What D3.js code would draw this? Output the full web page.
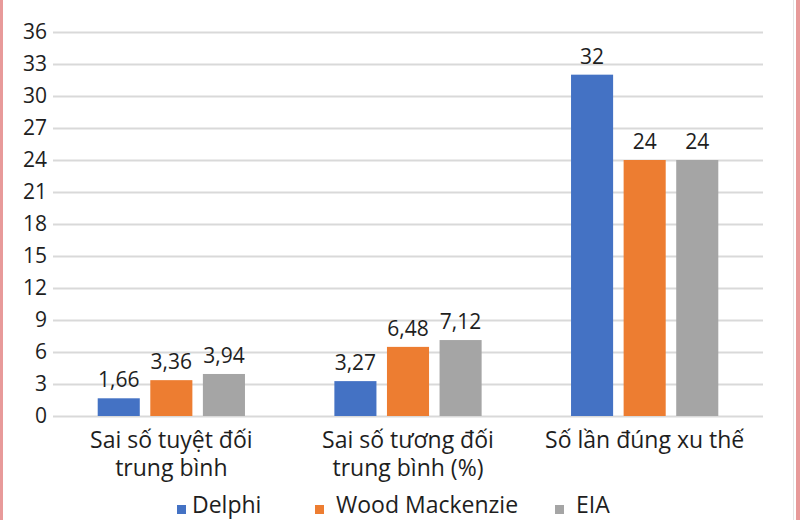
<!DOCTYPE html>
<html lang="vi">
<head>
<meta charset="utf-8">
<title>Chart</title>
<style>
  body { margin: 0; background: #fff; }
  text { font-family: "Open Sans", "Noto Sans", sans-serif; fill: #1e1e1e; }
</style>
</head>
<body>
<svg width="800" height="520"></svg>
<script src="https://d3js.org/d3.v7.min.js"></script>
<script>

var categories = [
    ["Sai số tuyệt đối", "trung bình"],
    ["Sai số tương đối", "trung bình (%)"],
    ["Số lần đúng xu thế"]
];
var series = ["Delphi", "Wood Mackenzie", "EIA"];
var delphi = [1.66, 3.27, 32];
var woodMackenzie = [3.36, 6.48, 24];
var eia = [3.94, 7.12, 24];
var yTicks = [0, 3, 6, 9, 12, 15, 18, 21, 24, 27, 30, 33, 36];
var colors = ["#4472c4", "#ed7d31", "#a5a5a5"];

var values = [delphi, woodMackenzie, eia];

var svg = d3.select("svg"),
    width = 800,
    height = 520;

// pinkish frame on the sides
svg.append("rect").attr("x", 0).attr("y", 0).attr("width", 3).attr("height", height).attr("fill", "#e89a9a");
svg.append("rect").attr("x", 796).attr("y", 0).attr("width", 4).attr("height", height).attr("fill", "#e89a9a");
svg.append("rect").attr("x", 793).attr("y", 0).attr("width", 1).attr("height", height).attr("fill", "#e4e4e4");

var vi = d3.formatLocale({decimal: ",", thousands: ".", grouping: [3], currency: ["", ""]});
var fmt = vi.format(".3~r");

var y = d3.scaleLinear().domain([0, 36]).range([416, 32]);

var x0 = d3.scaleBand()
    .domain(d3.range(categories.length))
    .range([53, 763]);

var x1 = d3.scaleBand()
    .domain(series)
    .range([0, x0.bandwidth()])
    .paddingInner(0.2)
    .paddingOuter(0.85);

// gridlines + y labels
var yAxis = d3.axisLeft(y)
    .tickValues(yTicks)
    .tickSize(-(763 - 53))
    .tickPadding(6)
    .tickFormat(d3.format("d"));

var ga = svg.append("g").attr("transform", "translate(53,0)").call(yAxis);
ga.select(".domain").remove();
ga.selectAll(".tick line").attr("stroke", "#d9d9d9").attr("stroke-width", 2);
ga.selectAll(".tick text")
    .attr("font-size", 21)
    .attr("font-family", "'Open Sans', sans-serif")
    .attr("fill", "#1e1e1e");

// bars
var groups = svg.selectAll("g.grp")
    .data(categories)
    .enter().append("g")
    .attr("class", "grp")
    .attr("transform", function(d, i) { return "translate(" + x0(i) + ",0)"; });

groups.each(function(c, ci) {
    var g = d3.select(this);
    series.forEach(function(s, si) {
        var v = values[si][ci];
        g.append("rect")
            .attr("x", x1(s))
            .attr("y", y(v))
            .attr("width", x1.bandwidth())
            .attr("height", y(0) - y(v))
            .attr("fill", colors[si]);
        g.append("text")
            .attr("x", x1(s) + x1.bandwidth() / 2)
            .attr("y", y(v) - 11)
            .attr("text-anchor", "middle")
            .attr("font-size", 21)
            .text(fmt(v));
    });
    c.forEach(function(line, li) {
        g.append("text")
            .attr("x", x0.bandwidth() / 2)
            .attr("y", 448 + li * 28)
            .attr("text-anchor", "middle")
            .attr("font-size", 23)
            .text(line);
    });
});

// legend
var legendX = [177, 315, 555];
var legend = svg.selectAll("g.leg")
    .data(series)
    .enter().append("g")
    .attr("class", "leg")
    .attr("transform", function(d, i) { return "translate(" + legendX[i] + ",503)"; });

legend.append("rect")
    .attr("x", 0).attr("y", 2)
    .attr("width", 9).attr("height", 9)
    .attr("fill", function(d, i) { return colors[i]; });

legend.append("text")
    .attr("x", function(d, i) { return i === 0 ? 15 : 21; })
    .attr("y", 10)
    .attr("font-size", 23)
    .text(function(d) { return d; });

</script>
</body>
</html>
